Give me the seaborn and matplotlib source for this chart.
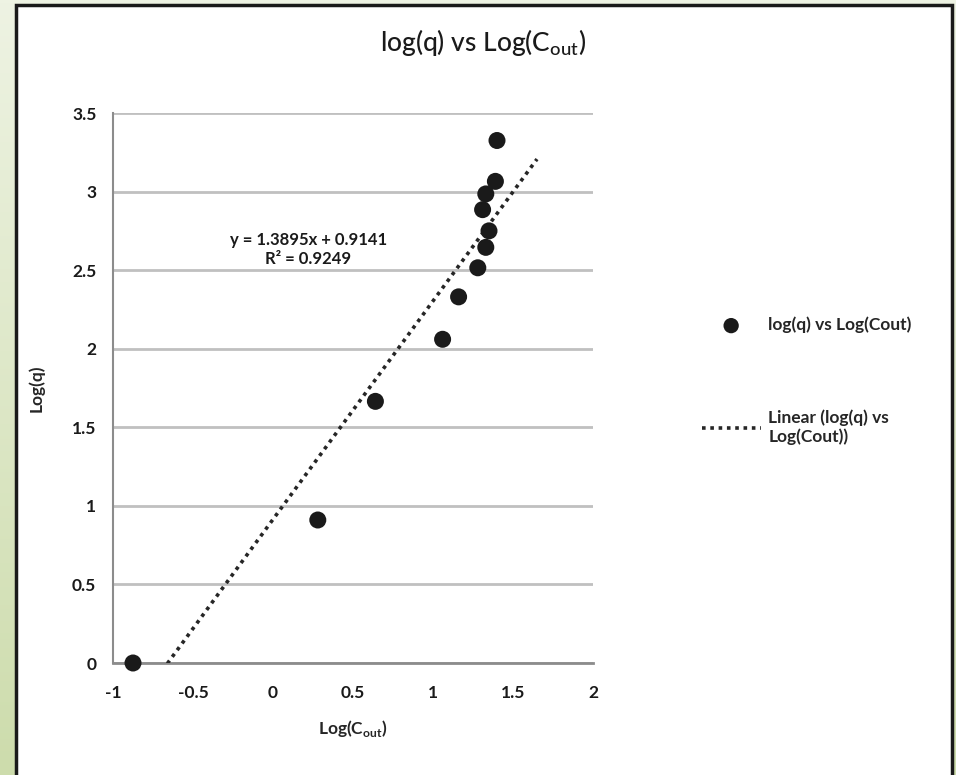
import numpy as np
import pandas as pd
import matplotlib.pyplot as plt
import seaborn as sns
from matplotlib.patches import Rectangle
from matplotlib.colors import LinearSegmentedColormap

# Данные
log_cout = [-0.875, 0.28, 0.64, 1.06, 1.16, 1.28, 1.33, 1.35, 1.31, 1.33, 1.39, 1.40]
log_q = [0.0, 0.91, 1.665, 2.06, 2.33, 2.515, 2.645, 2.75, 2.885, 2.985, 3.065, 3.325]

# Линия тренда (из подписи Excel)
slope = 1.3895
intercept = 0.9141
r2 = 0.9249
trend_x = [-0.875, 1.65]

y_ticks = [0, 0.5, 1, 1.5, 2, 2.5, 3, 3.5]
x_ticks = [-1, -0.5, 0, 0.5, 1, 1.5, 2]

df = pd.DataFrame({'x': log_cout, 'y': log_q})
trend = pd.DataFrame({'x': trend_x})
trend['y'] = slope * trend['x'] + intercept

sns.set_style('white')
plt.rcParams['font.family'] = ['Lato', 'DejaVu Sans']

fig = plt.figure(figsize=(9.56, 7.75), dpi=100)

# Зелёный фон с градиентом (темнее внизу)
bg = fig.add_axes([0, 0, 1, 1], zorder=-10)
grad = np.linspace(0, 1, 256).reshape(-1, 1)
bg.imshow(grad, aspect='auto', extent=[0, 1, 0, 1], origin='lower',
          cmap=LinearSegmentedColormap.from_list('g', ['#cddcac', '#eef3e3']))
bg.axis('off')
fig.patches.append(Rectangle((16 / 956, -0.01), 936 / 956, 1 - 5 / 775 + 0.01,
                             transform=fig.transFigure, facecolor='white',
                             edgecolor='#1a1a1a', linewidth=2.5, zorder=-5))

ax = fig.add_axes([113 / 956, 1 - 663 / 775, 480 / 956, 550 / 775])
ax.set_facecolor('none')

sns.lineplot(data=trend, x='x', y='y', ax=ax, color='#262626', linestyle=(0, (1, 1.3)),
             linewidth=2.6, label='Linear (log(q) vs\nLog(Cout))', zorder=3)
sns.scatterplot(data=df, x='x', y='y', ax=ax, color='#1a1a1a', s=150,
                edgecolor='none', label='log(q) vs Log(Cout)', zorder=4, clip_on=False)

ax.set_xlim(-1, 2)
ax.set_ylim(0, 3.5)
ax.set_xticks(x_ticks)
ax.set_yticks(y_ticks)
ax.set_xticklabels([f'{v:g}' for v in x_ticks], fontsize=12.5, fontweight='bold', color='#1a1a1a')
ax.set_yticklabels([f'{v:g}' for v in y_ticks], fontsize=12.5, fontweight='bold', color='#1a1a1a')
ax.tick_params(axis='x', length=0, pad=16)
ax.tick_params(axis='y', length=0, pad=12)
ax.yaxis.grid(True, color='#c0c0c0', linewidth=2)
ax.set_axisbelow(True)
for s in ['top', 'right']:
    ax.spines[s].set_visible(False)
ax.spines['left'].set_color('#8c8c8c')
ax.spines['left'].set_linewidth(1.5)
ax.spines['bottom'].set_color('#8c8c8c')
ax.spines['bottom'].set_linewidth(2)

ax.set_xlabel('Log(C$_{\\mathregular{out}}$)', fontsize=12.5, fontweight='bold', labelpad=12)
ax.set_ylabel('Log(q)', fontsize=12.5, fontweight='bold', labelpad=20)
fig.suptitle('log(q) vs Log(C$_{\\mathregular{out}}$)', fontsize=19, y=1 - 42 / 775, va='center',
             x=483 / 956, color='#1a1a1a', fontweight='medium')

ax.text(0.22, 2.63, f'y = {slope}x + {intercept}\nR² = {r2}', fontsize=12,
        fontweight='bold', ha='center', va='center', linespacing=1.25, color='#1a1a1a')

h, l = ax.get_legend_handles_labels()
ax.get_legend().remove()
fig.legend(h[::-1], l[::-1], loc='upper left', bbox_to_anchor=(686 / 956, 1 - 301 / 775),
           frameon=False, prop={'size': 12.5, 'weight': 'bold'}, handlelength=3.4,
           handletextpad=0.45, labelspacing=4.4, markerscale=0.9)

plt.savefig('out.png', dpi=100)
plt.close()
